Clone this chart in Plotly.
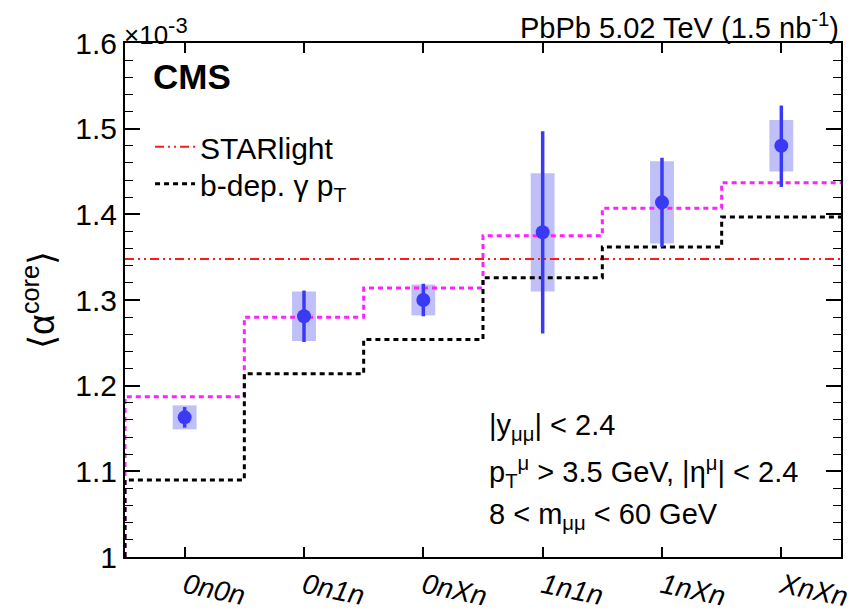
import plotly.graph_objects as go

categories = ["0n0n", "0n1n", "0nXn", "1n1n", "1nXn", "XnXn"]
data_vals = [1.163, 1.281, 1.300, 1.379, 1.414, 1.480]
stat_up = [0.012, 0.030, 0.019, 0.118, 0.052, 0.047]
stat_dn = [0.012, 0.030, 0.019, 0.118, 0.052, 0.048]
sys_err = [0.014, 0.029, 0.018, 0.069, 0.048, 0.030]
magenta_vals = [1.187, 1.280, 1.314, 1.375, 1.407, 1.437]
bdep_vals = [1.090, 1.214, 1.254, 1.326, 1.362, 1.397]
starlight_val = 1.348
y_ticks = [1.0, 1.1, 1.2, 1.3, 1.4, 1.5, 1.6]
y_ticktext = ["1", "1.1", "1.2", "1.3", "1.4", "1.5", "1.6"]

n = len(categories)
xc = list(range(n))
edges = [-0.5] + [i - 0.5 for i in range(n)] + [n - 0.5]

fig = go.Figure()

# systematic boxes
fig.add_trace(go.Bar(
    x=xc, y=[2 * s for s in sys_err], base=[v - s for v, s in zip(data_vals, sys_err)],
    width=0.2, marker=dict(color="rgba(90,90,240,0.38)", line=dict(width=0)),
    showlegend=False, hoverinfo="skip"))

# magenta step
fig.add_trace(go.Scatter(
    x=edges, y=[1.0] + magenta_vals + [magenta_vals[-1]], mode="lines",
    line=dict(color="#ff22ff", width=3, dash="5px,4px", shape="hv"),
    showlegend=False))

# starlight
fig.add_trace(go.Scatter(
    x=[-0.5, n - 0.5], y=[starlight_val, starlight_val], mode="lines",
    line=dict(color="#ff1a1a", width=2, dash="9px,4px,2px,4px,2px,4px"),
    name="STARlight", legend="legend"))

# b-dep step
fig.add_trace(go.Scatter(
    x=edges, y=[1.0] + bdep_vals + [bdep_vals[-1]], mode="lines",
    line=dict(color="black", width=3, dash="5px,4px", shape="hv"),
    name="b-dep. γ p<sub>T</sub>", legend="legend2"))

# data points
fig.add_trace(go.Scatter(
    x=xc, y=data_vals, mode="markers",
    marker=dict(color="#3a3af5", size=14),
    error_y=dict(type="data", symmetric=False, array=stat_up, arrayminus=stat_dn,
                 color="#3a3af5", thickness=3.5, width=0),
    showlegend=False))

fig.update_layout(
    width=853, height=603,
    margin=dict(l=117, r=20, t=35, b=54),
    plot_bgcolor="white", paper_bgcolor="white",
    font=dict(family="Liberation Sans, Arial, sans-serif", color="black", size=29),
    showlegend=True,
    legend=dict(x=0.035, y=0.798, xanchor="left", yanchor="middle",
                bgcolor="rgba(0,0,0,0)", font=dict(size=30), itemwidth=40),
    legend2=dict(x=0.035, y=0.726, xanchor="left", yanchor="middle",
                 bgcolor="rgba(0,0,0,0)", font=dict(size=30), itemwidth=40),
    barmode="overlay",
)

fig.update_xaxes(
    range=[-0.5, n - 0.5], tickmode="array", tickvals=xc,
    ticktext=["<i>%s</i>" % c for c in categories], tickangle=12,
    ticks="inside", ticklen=10, tickwidth=1.5, tickcolor="black",
    showline=True, linecolor="black", linewidth=2, mirror="ticks",
    showgrid=False, zeroline=False, tickfont=dict(size=28), automargin=False)

fig.update_yaxes(
    range=[1.0, 1.6], tickmode="array", tickvals=y_ticks, ticktext=y_ticktext,
    ticks="inside", ticklen=15, tickwidth=1.5, tickcolor="black",
    minor=dict(ticks="inside", ticklen=8, dtick=0.02, tick0=1.0, tickcolor="black", tickwidth=1.2, showgrid=False),
    showline=True, linecolor="black", linewidth=2, mirror="ticks",
    showgrid=False, zeroline=False, tickfont=dict(size=30), automargin=False,
    title=dict(text="⟨α<sup>core</sup>⟩", font=dict(size=36), standoff=10))

ann = []
ann.append(dict(x=0, y=1, xref="paper", yref="paper", xanchor="left", yanchor="bottom",
                text="×10<sup><span style='font-size:22px'>-3</span></sup>", showarrow=False,
                font=dict(size=26), xshift=-3, yshift=-9))
ann.append(dict(x=1, y=1, xref="paper", yref="paper", xanchor="right", yanchor="bottom",
                text="PbPb 5.02 TeV (1.5 nb<sup>-1</sup>)", showarrow=False, font=dict(size=29), yshift=-3, xshift=0))
ann.append(dict(x=0.036, y=0.935, xref="paper", yref="paper", xanchor="left", yanchor="middle",
                text="<b>CMS</b>", showarrow=False, font=dict(size=35)))
ann.append(dict(x=0.505, y=0.252, xref="paper", yref="paper", xanchor="left", yanchor="middle",
                text="|y<sub>μμ</sub>| < 2.4", showarrow=False, font=dict(size=29)))
ann.append(dict(x=0.505, y=0.165, xref="paper", yref="paper", xanchor="left", yanchor="middle",
                text="p<sub>T</sub><sup>μ</sup> > 3.5 GeV, |η<sup>μ</sup>| < 2.4", showarrow=False, font=dict(size=29)))
ann.append(dict(x=0.505, y=0.08, xref="paper", yref="paper", xanchor="left", yanchor="middle",
                text="8 < m<sub>μμ</sub> < 60 GeV", showarrow=False, font=dict(size=29)))
fig.update_layout(annotations=ann)

fig.write_html("out.html")
